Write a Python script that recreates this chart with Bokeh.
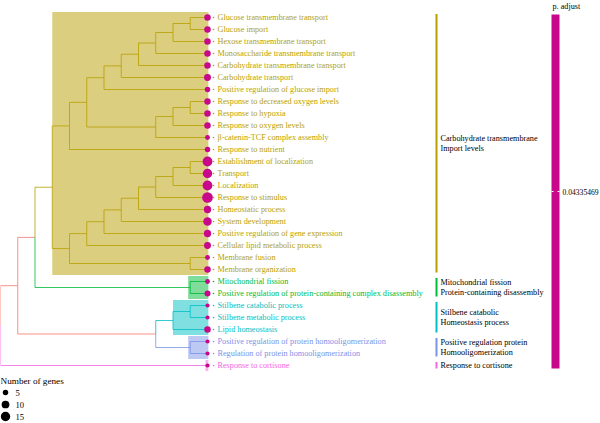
import numpy as np
from bokeh.plotting import figure
from bokeh.models import Range1d, ColumnDataSource
from bokeh.embed import file_html
from bokeh.resources import INLINE
from bokeh.core.properties import value

# ---------------- data ----------------
terms = [
    "Glucose transmembrane transport",
    "Glucose import",
    "Hexose transmembrane transport",
    "Monosaccharide transmembrane transport",
    "Carbohydrate transmembrane transport",
    "Carbohydrate transport",
    "Positive regulation of glucose import",
    "Response to decreased oxygen levels",
    "Response to hypoxia",
    "Response to oxygen levels",
    "\u03b2-catenin-TCF complex assembly",
    "Response to nutrient",
    "Establishment of localization",
    "Transport",
    "Localization",
    "Response to stimulus",
    "Homeostatic process",
    "System development",
    "Positive regulation of gene expression",
    "Cellular lipid metabolic process",
    "Membrane fusion",
    "Membrane organization",
    "Mitochondrial fission",
    "Positive regulation of protein-containing complex disassembly",
    "Stilbene catabolic process",
    "Stilbene metabolic process",
    "Lipid homeostasis",
    "Positive regulation of protein homooligomerization",
    "Regulation of protein homooligomerization",
    "Response to cortisone",
]
gene_counts = [7, 7, 7, 7, 7, 8, 5, 7, 7, 7, 4, 5, 16, 15, 16, 19, 9, 12, 9, 8,
               4, 7, 4, 6, 3, 3, 7, 3, 3, 3]
term_cluster = [1] * 22 + [2] * 2 + [3] * 3 + [4] * 2 + [5]
cluster_names = [
    ["Carbohydrate transmembrane", "Import levels"],
    ["Mitochondrial fission", "Protein-containing disassembly"],
    ["Stilbene catabolic", "Homeostasis process"],
    ["Positive regulation protein", "Homooligomerization"],
    ["Response to cortisone"],
]
# group 0 = branches shared by several clusters
group_colors = ["#F8766D", "#B79F00", "#00BA38", "#00BFC4", "#7B93E8", "#F564E3"]
padj_value = "0.04335469"
padj_color = "#C8078A"
legend_sizes = [5, 10, 15]

# tree topology (leaf indices)
c1 = ((((((0, 1), 2), 3), 4), 5), 6)
c2 = (((7, 8), 9), 10)
c3 = (((((((12, 13), 14), 15), 16), 17), 18), 19)
carb = (((c1, c2), 11), (c3, (20, 21)))
mito = (22, 23)
stil = ((24, 25), 26)
homo = (27, 28)
tree = (((carb, mito), (stil, homo)), 29)

# ---------------- layout helpers ----------------
FIG_W, FIG_H = 600, 423
W_REF, H_REF = 600, 423
S = min(FIG_W / W_REF, FIG_H / H_REF)
PX_LEVEL = 17.25
ROW_PX = 12.0
ROW0_PX = 17.0


def lx(px):
    return px / PX_LEVEL


def ry(py):
    return (py - ROW0_PX) / ROW_PX


def fs(px):
    return value("%.2fpx" % (px * S))


def dsize(n):
    return 2.45 * S * np.sqrt(n)


# ---------------- tree layout ----------------
def level(n):
    if isinstance(n, int):
        return 0
    return max(level(c) for c in n) + 1


def leaves(n):
    if isinstance(n, int):
        return [n]
    out = []
    for c in n:
        out += leaves(c)
    return out


MAXL = level(tree)


def ypos(n):
    if isinstance(n, int):
        return float(n)
    return float(np.mean([ypos(c) for c in n]))


def group(n):
    cl = set(term_cluster[i] for i in leaves(n))
    return cl.pop() if len(cl) == 1 else 0


seg = dict(x0=[], y0=[], x1=[], y1=[], color=[])


def walk(n):
    if isinstance(n, int):
        return
    xp, yp = MAXL - level(n), ypos(n)
    for c in n:
        xc, yc = MAXL - level(c), ypos(c)
        col = group_colors[group(c)]
        seg["x0"] += [xp, xp]
        seg["y0"] += [yp, yc]
        seg["x1"] += [xp, xc]
        seg["y1"] += [yc, yc]
        seg["color"] += [col, col]
        walk(c)


walk(tree)


def mrca(node, want):
    if set(leaves(node)) == want:
        return node
    if isinstance(node, int):
        return None
    for c in node:
        r = mrca(c, want)
        if r is not None:
            return r
    return None


# ---------------- figure ----------------
p = figure(width=FIG_W, height=FIG_H, output_backend="svg", toolbar_location=None,
           x_range=Range1d(lx(0), lx(W_REF)), y_range=Range1d(ry(H_REF), ry(0)),
           min_border=0)
p.axis.visible = False
p.grid.visible = False
p.outline_line_color = None
p.background_fill_color = "white"
p.border_fill_color = "white"

# highlight rectangles
hl = dict(left=[], right=[], top=[], bottom=[], color=[])
for k in range(1, len(cluster_names) + 1):
    idx = [i for i, c in enumerate(term_cluster) if c == k]
    node = mrca(tree, set(idx))
    xn = MAXL - level(node)
    hl["left"].append(xn - (0.0 if xn < 11 else 0.12))
    hl["right"].append(MAXL + 0.05)
    hl["top"].append(min(idx) - 0.45)
    hl["bottom"].append(max(idx) + 0.45)
    hl["color"].append(group_colors[k])
p.quad(source=ColumnDataSource(hl), left="left", right="right", top="top",
       bottom="bottom", fill_color="color", fill_alpha=0.5, line_color=None)

# tree branches
p.segment(source=ColumnDataSource(seg), x0="x0", y0="y0", x1="x1", y1="y1",
          line_color="color", line_width=1, line_alpha=0.8)

# tips
n = len(terms)
tip = dict(x=[MAXL] * n, y=list(range(n)), size=[dsize(g) for g in gene_counts],
           label=terms, color=[group_colors[c] for c in term_cluster],
           dx=[MAXL + lx(6)] * n, tx=[MAXL + lx(10)] * n)
tsrc = ColumnDataSource(tip)
p.scatter(source=tsrc, x="x", y="y", size="size", fill_color=padj_color,
          line_color=None)
p.scatter(source=tsrc, x="dx", y="y", size=1.6, fill_color="color", line_color=None)
p.text(source=tsrc, x="tx", y="y", text="label", text_color="color",
       text_font=value("Liberation Serif"), text_font_size=fs(8.2),
       text_baseline="middle", text_align="left")

# cluster bars and labels
bx = lx(436)
for k in range(1, len(cluster_names) + 1):
    idx = [i for i, c in enumerate(term_cluster) if c == k]
    p.segment(x0=[bx], x1=[bx], y0=[min(idx) - 0.3], y1=[max(idx) + 0.25],
              line_color=group_colors[k], line_width=2)
    mid = (min(idx) - 0.3 + max(idx) + 0.25) / 2
    lines = cluster_names[k - 1]
    nl = len(lines)
    ys = [mid + (j - (nl - 1) / 2) * 0.84 for j in range(nl)]
    p.text(x=[lx(440)] * nl, y=ys, text=lines, text_color="black",
           text_font=value("Liberation Serif"), text_font_size=fs(8.2),
           text_baseline="middle", text_align="left")

# color bar
p.quad(left=[lx(551)], right=[lx(559)], top=[ry(14)], bottom=[ry(368)],
       fill_color=padj_color, line_color=None)
tick_y = ry((14 + 368) / 2)
p.segment(x0=[lx(551), lx(557)], x1=[lx(553), lx(559)], y0=[tick_y] * 2,
          y1=[tick_y] * 2, line_color="white", line_width=1)
p.text(x=[lx(562)], y=[tick_y], text=[padj_value], text_color="black",
       text_font=value("Liberation Serif"), text_font_size=fs(7.6),
       text_baseline="middle")
p.text(x=[lx(552)], y=[ry(6)], text=["p. adjust"], text_color="black",
       text_font=value("Liberation Serif"), text_font_size=fs(8.2),
       text_baseline="middle")

# size legend
p.text(x=[lx(0)], y=[ry(380)], text=["Number of genes"], text_color="black",
       text_font=value("Liberation Serif"), text_font_size=fs(9.2),
       text_baseline="middle")
ly = [ry(392) + j for j in range(len(legend_sizes))]
p.scatter(x=[lx(5)] * len(legend_sizes), y=ly, size=[dsize(s) for s in legend_sizes],
          fill_color="black", line_color=None)
p.text(x=[lx(15)] * len(legend_sizes), y=ly, text=[str(s) for s in legend_sizes],
       text_color="black", text_font=value("Liberation Serif"),
       text_font_size=fs(8.6), text_baseline="middle")

open("out.html", "w").write(file_html(p, INLINE))
